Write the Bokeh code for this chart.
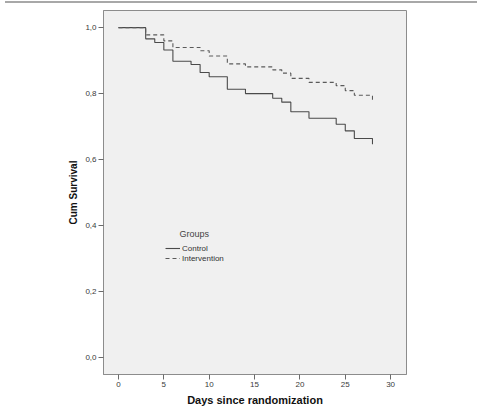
from bokeh.plotting import figure
from bokeh.models import FixedTicker, Legend, LegendItem, Label, Range1d, Div
from bokeh.layouts import column
from bokeh.embed import file_html
from bokeh.resources import INLINE

# Data
control_days = [0, 3, 4, 5, 6, 8, 9, 10, 12, 14, 17, 18, 19, 21, 24, 25, 26, 28]
control_surv = [1.0, 0.966, 0.955, 0.932, 0.898, 0.888, 0.864, 0.851, 0.813,
                0.800, 0.786, 0.774, 0.745, 0.725, 0.707, 0.687, 0.664, 0.646]
interv_days = [0, 3, 5, 6, 9, 10, 12, 14, 17, 18, 19, 21, 24, 25, 26, 28]
interv_surv = [1.0, 0.978, 0.960, 0.940, 0.930, 0.914, 0.890, 0.881, 0.872,
               0.862, 0.846, 0.834, 0.824, 0.809, 0.795, 0.780]
x_ticks = [0, 5, 10, 15, 20, 25, 30]
y_ticks = [0.0, 0.2, 0.4, 0.6, 0.8, 1.0]
y_tick_labels = ["0,0", "0,2", "0,4", "0,6", "0,8", "1,0"]

FONT = "Liberation Sans"

top_rule = Div(text="", width=477, height=2,
               styles={"background-color": "#a8a8a8", "margin-top": "1px"})

p = figure(width=477, height=400, output_backend="svg", toolbar_location=None,
           x_range=Range1d(-1.65, 31.75), y_range=Range1d(-0.052, 1.052),
           min_border_left=103, min_border_right=71, min_border_top=2,
           min_border_bottom=34)

p.background_fill_color = "#f0f0f0"
p.border_fill_color = "white"
p.outline_line_color = "#8c8c8c"
p.outline_line_width = 1
p.grid.visible = False

for ax in (p.xaxis[0], p.yaxis[0]):
    ax.axis_line_color = "#8c8c8c"
    ax.major_tick_line_color = "#6a6a6a"
    ax.minor_tick_line_color = None
    ax.major_tick_in = 0
    ax.major_tick_out = 5
    ax.major_label_text_font = FONT
    ax.major_label_text_font_size = "8px"
    ax.major_label_text_color = "#3a3a3a"
    ax.axis_label_text_font = FONT
    ax.axis_label_text_font_style = "bold"
    ax.axis_label_text_color = "#111111"

p.xaxis.ticker = FixedTicker(ticks=x_ticks)
p.xaxis.axis_label = "Days since randomization"
p.xaxis.axis_label_text_font_size = "11px"
p.xaxis.major_label_standoff = 2
p.xaxis.axis_label_standoff = 4

p.yaxis.ticker = FixedTicker(ticks=y_ticks)
p.yaxis.major_label_overrides = {t: l for t, l in zip(y_ticks, y_tick_labels)}
p.yaxis.axis_label = "Cum Survival"
p.yaxis.axis_label_text_font_size = "10px"
p.yaxis.major_label_standoff = 2
p.yaxis.axis_label_standoff = 3

r_c = p.step(control_days, control_surv, mode="after", line_color="#4a4a4a",
             line_width=1.1)
r_i = p.step(interv_days, interv_surv, mode="after", line_color="#5a5a5a",
             line_width=1.1, line_dash="4 3")

legend = Legend(items=[LegendItem(label="Control", renderers=[r_c]),
                       LegendItem(label="Intervention", renderers=[r_i])],
                location=(62, 111), orientation="vertical",
                padding=0, margin=0, spacing=0,
                label_height=10, glyph_height=10, glyph_width=15,
                label_standoff=2, label_text_font=FONT,
                label_text_font_size="8px", label_text_color="#333333",
                border_line_alpha=0, background_fill_alpha=0)
p.add_layout(legend, "center")

p.add_layout(Label(x=76, y=141, x_units="screen", y_units="screen",
                   text="Groups", text_font=FONT, text_font_size="9px",
                   text_color="#444444", text_baseline="middle"))

layout = column(top_rule, p, spacing=0)
open("out.html", "w").write(file_html(layout, INLINE))
